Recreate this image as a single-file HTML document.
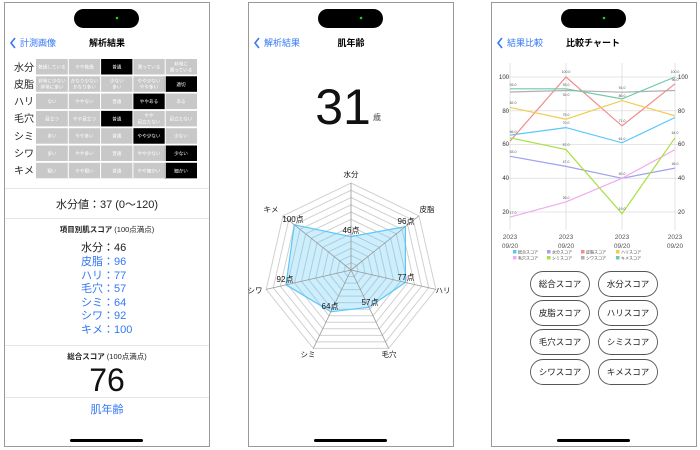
<!DOCTYPE html>
<html><head><meta charset="utf-8"><style>
html,body{margin:0;padding:0;background:#fff;width:700px;height:450px;overflow:hidden}
svg text{font-family:"Liberation Sans","Noto Sans CJK JP",sans-serif}
</style></head><body>
<svg width="700" height="450" viewBox="0 0 700 450" xmlns="http://www.w3.org/2000/svg">
<defs>
<polygon id="hep" points="0,-87 68,-54.2 84.8,19.4 37.7,78.4 -37.7,78.4 -84.8,19.4 -68,-54.2" fill="none" stroke="#d0d0d0" stroke-width="1" vector-effect="non-scaling-stroke"/>
</defs>
<rect x="4.5" y="2.5" width="205" height="444" fill="#fff" stroke="#999" stroke-width="1"/>
<rect x="248.5" y="2.5" width="205" height="444" fill="#fff" stroke="#999" stroke-width="1"/>
<rect x="491.5" y="2.5" width="205" height="444" fill="#fff" stroke="#999" stroke-width="1"/>
<rect x="74" y="9" width="65" height="19" rx="9.5" fill="#000"/><circle cx="117" cy="18" r="1.3" fill="#2c2"/>
<rect x="318" y="9" width="65" height="19" rx="9.5" fill="#000"/><circle cx="361" cy="18" r="1.3" fill="#2c2"/>
<rect x="561" y="9" width="65" height="19" rx="9.5" fill="#000"/><circle cx="604" cy="18" r="1.3" fill="#2c2"/>
<rect x="70" y="439" width="73" height="3" rx="1.5" fill="#000"/>
<rect x="314" y="439" width="73" height="3" rx="1.5" fill="#000"/>
<rect x="557" y="439" width="73" height="3" rx="1.5" fill="#000"/>
<g fill="none" stroke="#3478f6" stroke-width="1.6"><path d="M15,38 L11,43 L15,48"/><path d="M259,38 L255,43 L259,48"/><path d="M502,38 L498,43 L502,48"/></g>
<g font-size="9" fill="#3478f6"><text x="20" y="46">計測画像</text><text x="264" y="46">解析結果</text><text x="507" y="46">結果比較</text></g>
<g font-size="9" font-weight="bold" fill="#000" text-anchor="middle"><text x="107" y="46">解析結果</text><text x="351" y="46">肌年齢</text><text x="593" y="46">比較チャート</text></g>

<g font-size="10" fill="#222"><text x="14" y="71">水分</text><text x="14" y="88">皮脂</text><text x="14" y="105">ハリ</text><text x="14" y="122">毛穴</text><text x="14" y="140">シミ</text><text x="14" y="157">シワ</text><text x="14" y="174">キメ</text></g>
<g fill="#c8c8c8">
<rect x="36" y="59" width="161" height="15.5"/><rect x="36" y="76.3" width="161" height="15.5"/><rect x="36" y="93.6" width="161" height="15.5"/><rect x="36" y="110.9" width="161" height="15.5"/><rect x="36" y="128.2" width="161" height="15.5"/><rect x="36" y="145.5" width="161" height="15.5"/><rect x="36" y="162.8" width="161" height="15.5"/>
</g>
<g fill="#000">
<rect x="100.6" y="59" width="32.3" height="15.5"/><rect x="164.7" y="76.3" width="32.3" height="15.5"/><rect x="132.9" y="93.6" width="32.3" height="15.5"/><rect x="100.6" y="110.9" width="32.3" height="15.5"/><rect x="132.9" y="128.2" width="32.3" height="15.5"/><rect x="164.7" y="145.5" width="32.3" height="15.5"/><rect x="164.7" y="162.8" width="32.3" height="15.5"/>
</g>
<g stroke="#fff" stroke-width="1"><line x1="68.3" y1="59" x2="68.3" y2="178"/><line x1="100.6" y1="59" x2="100.6" y2="178"/><line x1="132.9" y1="59" x2="132.9" y2="178"/><line x1="165.2" y1="59" x2="165.2" y2="178"/></g>
<g font-size="4.6" fill="#fff" text-anchor="middle">
<text x="52" y="68.5">乾燥している</text><text x="84.5" y="68.5">やや乾燥</text><text x="116.8" y="68.5">普通</text><text x="149" y="68.5">潤っている</text><text x="181" y="65.5">非常に</text><text x="181" y="71.5">潤っている</text>
<text x="52" y="82.5">非常に少ない</text><text x="52" y="88.5">非常に多い</text><text x="84.5" y="82.5">かなり少ない</text><text x="84.5" y="88.5">かなり多い</text><text x="116.8" y="82.5">少ない</text><text x="116.8" y="88.5">多い</text><text x="149" y="82.5">やや少ない</text><text x="149" y="88.5">やや多い</text><text x="181" y="85.8">適切</text>
<text x="52" y="103">ない</text><text x="84.5" y="103">ややない</text><text x="116.8" y="103">普通</text><text x="149" y="103">ややある</text><text x="181" y="103">ある</text>
<text x="52" y="120.5">目立つ</text><text x="84.5" y="120.5">やや目立つ</text><text x="116.8" y="120.5">普通</text><text x="149" y="117">やや</text><text x="149" y="123.5">目立たない</text><text x="181" y="120.5">目立たない</text>
<text x="52" y="137.7">多い</text><text x="84.5" y="137.7">やや多い</text><text x="116.8" y="137.7">普通</text><text x="149" y="137.7">やや少ない</text><text x="181" y="137.7">少ない</text>
<text x="52" y="155">多い</text><text x="84.5" y="155">やや多い</text><text x="116.8" y="155">普通</text><text x="149" y="155">やや少ない</text><text x="181" y="155">少ない</text>
<text x="52" y="172.3">粗い</text><text x="84.5" y="172.3">やや粗い</text><text x="116.8" y="172.3">普通</text><text x="149" y="172.3">やや細かい</text><text x="181" y="172.3">細かい</text>
</g>
<g stroke="#e6e6e6" stroke-width="1"><line x1="5" y1="188.5" x2="209" y2="188.5"/><line x1="5" y1="218.5" x2="209" y2="218.5"/><line x1="5" y1="345.5" x2="209" y2="345.5"/><line x1="5" y1="397.5" x2="209" y2="397.5"/></g>
<text x="107" y="208" font-size="11" text-anchor="middle" fill="#222">水分値：37 (0～120)</text>
<text x="107" y="232" font-size="7.5" text-anchor="middle" fill="#222"><tspan font-weight="bold">項目別肌スコア</tspan> (100点満点)</text>
<g font-size="11">
<text x="81" y="251" fill="#222">水分：46</text>
<text x="81" y="265" fill="#3478f6">皮脂：96</text>
<text x="81" y="279" fill="#3478f6">ハリ：77</text>
<text x="81" y="292" fill="#3478f6">毛穴：57</text>
<text x="81" y="306" fill="#3478f6">シミ：64</text>
<text x="81" y="319" fill="#3478f6">シワ：92</text>
<text x="81" y="333" fill="#3478f6">キメ：100</text>
</g>
<text x="107" y="359" font-size="7.5" text-anchor="middle" fill="#222"><tspan font-weight="bold">総合スコア</tspan> (100点満点)</text>
<text x="107" y="391" font-size="32" text-anchor="middle" fill="#111">76</text>
<text x="107" y="413" font-size="11" text-anchor="middle" fill="#3478f6">肌年齢</text>

<text x="343" y="124" font-size="50" text-anchor="middle" fill="#111">31</text>
<text x="373" y="120" font-size="8" fill="#444">歳</text>
<g transform="translate(351,270)">
<use href="#hep"/>
<use href="#hep" transform="scale(0.9167)"/><use href="#hep" transform="scale(0.8333)"/><use href="#hep" transform="scale(0.75)"/><use href="#hep" transform="scale(0.6667)"/><use href="#hep" transform="scale(0.5833)"/><use href="#hep" transform="scale(0.5)"/><use href="#hep" transform="scale(0.4167)"/><use href="#hep" transform="scale(0.3333)"/><use href="#hep" transform="scale(0.25)"/><use href="#hep" transform="scale(0.1667)"/><use href="#hep" transform="scale(0.0833)"/>
</g>
<polygon points="351,236.6 405.4,226.6 405.4,282.4 368.9,307.2 330.9,311.8 286,284.8 294.3,224.8" fill="#5ac8fa" fill-opacity="0.3" stroke="#5ac8fa" stroke-width="1.2"/>
<g stroke="#999" stroke-width="0.8"><line x1="351" y1="270" x2="351" y2="183"/><line x1="351" y1="270" x2="419" y2="215.8"/><line x1="351" y1="270" x2="435.8" y2="289.4"/><line x1="351" y1="270" x2="388.7" y2="348.4"/><line x1="351" y1="270" x2="313.3" y2="348.4"/><line x1="351" y1="270" x2="266.2" y2="289.4"/><line x1="351" y1="270" x2="283" y2="215.8"/></g>
<g font-size="7.5" fill="#111" text-anchor="middle">
<text x="351" y="177">水分</text><text x="427" y="212">皮脂</text><text x="443" y="293">ハリ</text><text x="389" y="357">毛穴</text><text x="308" y="357">シミ</text><text x="255" y="293">シワ</text><text x="271" y="212">キメ</text>
</g>
<g font-size="8" fill="#111" text-anchor="middle">
<text x="351" y="233">46点</text><text x="406" y="224">96点</text><text x="406" y="280">77点</text><text x="370" y="305">57点</text><text x="330" y="309">64点</text><text x="285" y="282">92点</text><text x="293" y="222">100点</text>
</g>

<g stroke="#dcdcdc" stroke-width="0.8">
<line x1="510" y1="63" x2="510" y2="230"/><line x1="566" y1="63" x2="566" y2="230"/><line x1="622" y1="63" x2="622" y2="230"/><line x1="675" y1="63" x2="675" y2="230"/>
<line x1="505" y1="77" x2="680" y2="77"/><line x1="505" y1="110.75" x2="680" y2="110.75"/><line x1="505" y1="144.5" x2="680" y2="144.5"/><line x1="505" y1="178.25" x2="680" y2="178.25"/><line x1="505" y1="212" x2="680" y2="212"/>
</g>
<g font-size="6" fill="#333">
<g text-anchor="end"><text x="509" y="79">100</text><text x="509" y="113">80</text><text x="509" y="146">60</text><text x="509" y="180">40</text><text x="509" y="214">20</text></g>
<text x="678" y="79">100</text><text x="678" y="113">80</text><text x="678" y="146">60</text><text x="678" y="180">40</text><text x="678" y="214">20</text>
</g>
<g fill="none" stroke-width="1.2">
<polyline stroke="#5ac8fa" points="510,135.1 566,127.6 622,142.8 675,117.5"/>
<polyline stroke="#a0a0f0" points="510,156.3 566,166.4 622,178.3 675,168.1"/>
<polyline stroke="#f08c8c" points="510,141.1 566,77 622,125.9 675,83.8"/>
<polyline stroke="#f0cc50" points="510,107.4 566,119.2 622,100.6 675,115.8"/>
<polyline stroke="#f0aaf0" points="510,217.1 566,201.9 622,178.3 675,149.6"/>
<polyline stroke="#a8e040" points="510,137.8 566,149.6 622,213.7 675,137.8"/>
<polyline stroke="#b0b0b0" points="510,92 566,90.5 622,92.2 675,90.5"/>
<polyline stroke="#70c8a8" points="510,88.8 566,88.8 622,98.9 675,77"/>
</g>
<g font-size="3.5" fill="#555" text-anchor="middle">
<text x="566" y="73">100.0</text><text x="675" y="73">100.0</text><text x="622" y="89">91.0</text><text x="566" y="86">93.0</text><text x="566" y="96">92.0</text><text x="622" y="97">86.0</text><text x="622" y="122">71.0</text><text x="566" y="116">75.0</text><text x="566" y="124">70.0</text><text x="622" y="140">61.0</text><text x="566" y="146">57.0</text><text x="566" y="163">47.0</text><text x="622" y="175">40.0</text><text x="566" y="199">26.0</text><text x="622" y="210">19.0</text><text x="675" y="81">96.0</text><text x="675" y="134">64.0</text><text x="675" y="165">46.0</text>
<text x="513" y="86">93.0</text><text x="513" y="104">82.0</text><text x="513" y="133">66.0</text><text x="513" y="153">53.0</text><text x="513" y="214">17.0</text>
</g>
<g font-size="6.5" fill="#555" text-anchor="middle">
<text x="510" y="239">2023</text><text x="510" y="248">09/20</text>
<text x="566" y="239">2023</text><text x="566" y="248">09/20</text>
<text x="622" y="239">2023</text><text x="622" y="248">09/20</text>
<text x="675" y="239">2023</text><text x="675" y="248">09/20</text>
</g>
<g font-size="4" fill="#444">
<rect x="513" y="250" width="3.5" height="3.5" fill="#5ac8fa"/><text x="518" y="253.5">総合スコア</text>
<rect x="547" y="250" width="3.5" height="3.5" fill="#a0a0f0"/><text x="552" y="253.5">水分スコア</text>
<rect x="581" y="250" width="3.5" height="3.5" fill="#f08c8c"/><text x="586" y="253.5">皮脂スコア</text>
<rect x="616" y="250" width="3.5" height="3.5" fill="#f0cc50"/><text x="621" y="253.5">ハリスコア</text>
<rect x="513" y="256" width="3.5" height="3.5" fill="#f0aaf0"/><text x="518" y="259.5">毛穴スコア</text>
<rect x="547" y="256" width="3.5" height="3.5" fill="#a8e040"/><text x="552" y="259.5">シミスコア</text>
<rect x="581" y="256" width="3.5" height="3.5" fill="#b0b0b0"/><text x="586" y="259.5">シワスコア</text>
<rect x="616" y="256" width="3.5" height="3.5" fill="#70c8a8"/><text x="621" y="259.5">キメスコア</text>
</g>
<g fill="#fff" stroke="#555" stroke-width="0.9">
<rect x="530.5" y="271.5" width="59" height="25" rx="12.5"/><rect x="598.5" y="271.5" width="59" height="25" rx="12.5"/>
<rect x="530.5" y="300.5" width="59" height="25" rx="12.5"/><rect x="598.5" y="300.5" width="59" height="25" rx="12.5"/>
<rect x="530.5" y="329.5" width="59" height="25" rx="12.5"/><rect x="598.5" y="329.5" width="59" height="25" rx="12.5"/>
<rect x="530.5" y="359.5" width="59" height="25" rx="12.5"/><rect x="598.5" y="359.5" width="59" height="25" rx="12.5"/>
</g>
<g font-size="8.5" fill="#222" text-anchor="middle">
<text x="560" y="287">総合スコア</text><text x="628" y="287">水分スコア</text>
<text x="560" y="316">皮脂スコア</text><text x="628" y="316">ハリスコア</text>
<text x="560" y="345">毛穴スコア</text><text x="628" y="345">シミスコア</text>
<text x="560" y="375">シワスコア</text><text x="628" y="375">キメスコア</text>
</g>
</svg>
</body></html>
